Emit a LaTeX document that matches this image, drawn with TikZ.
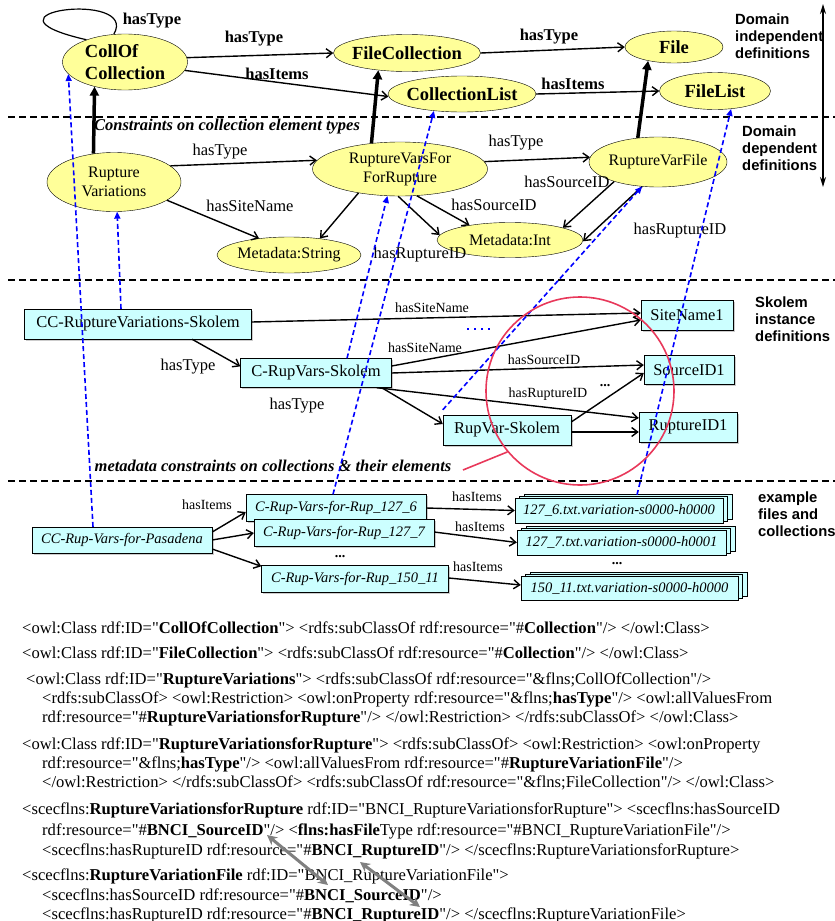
\documentclass[tikz,border=0pt]{standalone}
\usepackage{fontspec}
\setmainfont{Liberation Serif}[Ligatures=TeXOff]
\newfontfamily\sidefont{Liberation Sans}
\usetikzlibrary{shapes.geometric, arrows.meta, shadows}

\definecolor{clsyellow}{HTML}{FFFF99}
\definecolor{skcyan}{HTML}{CCFFFF}
\definecolor{instblue}{HTML}{0000FF}
\definecolor{markred}{HTML}{E8385A}

\tikzset{
  cls/.style={ellipse, draw, fill=clsyellow, inner sep=0pt, inner xsep=-4pt, align=center, font=\fontsize{16}{19}\selectfont},
  clsbold/.style={cls, inner xsep=-6pt, font=\fontsize{18.5}{22}\selectfont\bfseries},
  prop/.style={line width=1.4pt, -{Straight Barb[length=6pt,width=9pt]}},
  subcl/.style={line width=3.5pt, -{Triangle[length=9pt,width=9pt]}},
  inst/.style={instblue, line width=1.6pt, dash pattern=on 5pt off 3pt, -{Triangle[length=7pt,width=6pt]}},
  skbox/.style={draw, fill=skcyan, inner sep=0pt, font=\fontsize{16.5}{18}\selectfont,
    drop shadow={shadow xshift=1.5pt, shadow yshift=-1.5pt, opacity=0.4}},
  exbox/.style={skbox, font=\fontsize{14.5}{16}\selectfont\itshape},
  filestack/.style={draw, fill=skcyan, inner sep=0pt, font=\fontsize{14.5}{16}\selectfont\itshape,
    preaction={draw, fill=skcyan, transform canvas={shift={(9pt,4pt)}}},
    preaction={draw, fill=skcyan, transform canvas={shift={(4.5pt,2pt)}}}},
  boldlbl/.style={font=\fontsize{16.5}{18}\selectfont\bfseries},
  lbl/.style={font=\fontsize{16.5}{18}\selectfont},
  smalllbl/.style={font=\fontsize{14}{16}\selectfont},
  side/.style={anchor=north west, align=left, inner sep=0pt, font=\sidefont\fontsize{14.8}{16.8}\selectfont\bfseries},
  caption/.style={font=\fontsize{16.5}{18}\selectfont\bfseries\itshape},
  sep/.style={line width=1.3pt, dash pattern=on 7pt off 4pt},
  code/.style={anchor=base west, inner sep=0pt, font=\fontsize{16.6}{18}\selectfont},
  xmlarrow/.style={black!50, line width=3pt, {Stealth[length=10pt,width=10pt]}-{Stealth[length=10pt,width=10pt]}},
}

\begin{document}
\begin{tikzpicture}[x=1pt, y=-1pt]
    \useasboundingbox (0,0) rectangle (835,921);

    % section rules and the side axis
    \draw[sep] (8,117) -- (835,117);
    \draw[sep] (8,280) -- (835,280);
    \draw[sep] (8,481) -- (835,481);
    \coordinate (axtop) at (823,4);
    \coordinate (axbot) at (823,187);
    \draw[line width=1.3pt, {Stealth[length=10pt,width=6pt]}-{Stealth[length=10pt,width=6pt]}] (axtop) -- (axbot);

    \node[side] (sideind) at (735,14) {Domain\\independent\\definitions};
    \node[side] (sidedep) at (742,126) {Domain\\dependent\\definitions};
    \node[side] (sidesk) at (755,297) {Skolem\\instance\\definitions};
    \node[side] (sideex) at (758,492) {example\\files and\\collections};

    % domain independent classes
    \node[clsbold, minimum width=125pt, minimum height=56pt, align=left] (coll) at (125,62) {CollOf\\Collection};
    \node[clsbold, minimum width=147pt, minimum height=37pt] (filecoll) at (407,53) {FileCollection};
    \node[clsbold, minimum width=98pt, minimum height=32pt] (file) at (674,47) {File};
    \node[clsbold, minimum width=148pt, minimum height=36pt] (colllist) at (462,94) {CollectionList};
    \node[clsbold, minimum width=111pt, minimum height=37pt] (filelist) at (715,91) {FileList};

    \draw[line width=1.2pt] (coll.150) .. controls (-35,12) and (140,-10) .. (coll.112);
    \draw[prop] (coll.4) -- (filecoll.180);
    \draw[prop] (coll.-8) -- (colllist.182);
    \draw[prop] (filecoll.0) -- (file.180);
    \draw[prop] (colllist.0) -- (filelist.180);
    \node[boldlbl] (lloop) at (152,21) {hasType};
    \node[boldlbl] (lcf) at (254,39) {hasType};
    \node[boldlbl] (lcl) at (277,74) {hasItems};
    \node[boldlbl] (lff) at (549,37) {hasType};
    \node[boldlbl] (llf) at (573,84) {hasItems};

    % domain dependent classes
    \node[cls, minimum width=134pt, minimum height=59pt] (rupvar) at (114,182) {Rupture\\Variations};
    \node[cls, minimum width=175pt, minimum height=54pt] (rvfr) at (400,169) {RuptureVarsFor\\ForRupture};
    \node[cls, minimum width=138pt, minimum height=50pt] (rvfile) at (658,162) {RuptureVarFile};
    \node[cls, minimum width=144pt, minimum height=36pt] (mstr) at (289,255) {Metadata:String};
    \node[cls, minimum width=146pt, minimum height=35pt] (mint) at (510,240) {Metadata:Int};

    \draw[subcl] (rupvar.126) -- (coll.219);
    \draw[subcl] (rvfr.138) -- (filecoll.211);
    \draw[subcl] (rvfile.130) -- (file.208);

    \draw[prop] (rupvar.16) -- (rvfr.174);
    \draw[prop] (rupvar.-19) -- (mstr.151);
    \draw[prop] (rvfr.210) -- (mstr.28);
    \draw[prop] (rvfr.266) -- (mint.176);
    \draw[prop] (rvfr.302) -- (mint.160);
    \draw[prop] (rvfr.5) -- (rvfile.176);
    \draw[prop] (rvfile.204) -- (mint.13);
    \draw[prop] (rvfile.237) -- (mint.-1);
    \node[caption] (capdom) at (227,127) {Constraints on collection element types};
    \node[lbl] (lrt) at (220,152) {hasType};
    \node[lbl] (lrs) at (250,206) {hasSiteName};
    \node[lbl] (lrr) at (420,255) {hasRuptureID};
    \node[lbl] (lft) at (516,143) {hasType};
    \node[lbl] (lfs) at (567,182) {hasSourceID};
    \node[lbl] (lms) at (494,205) {hasSourceID};
    \node[lbl] (lfr) at (680,231) {hasRuptureID};

    % skolem instances
    \node[skbox, minimum width=227pt, minimum height=30pt] (ccsk) at (138,324) {CC-RuptureVariations-Skolem};
    \node[skbox, minimum width=151pt, minimum height=29pt] (csk) at (316,373) {C-RupVars-Skolem};
    \node[skbox, minimum width=92pt, minimum height=30pt] (site) at (687,315) {SiteName1};
    \node[skbox, minimum width=90pt, minimum height=29pt] (src) at (689,370) {SourceID1};
    \node[skbox, minimum width=98pt, minimum height=30pt] (rup) at (688,427) {RuptureID1};
    \node[skbox, minimum width=128pt, minimum height=30pt] (rvsk) at (507,430) {RupVar-Skolem};

    \draw[prop] ([yshift=2pt]ccsk.east) -- ([yshift=2pt]site.west);
    \draw[prop] ([xshift=54pt]ccsk.south) -- (csk.175);
    \draw[prop] ([yshift=7pt]csk.east) -- ([yshift=-5pt]site.west);
    \draw[prop] (csk.east) -- ([yshift=5pt]src.west);
    \draw[prop] ([xshift=-15pt]csk.south east) -- ([yshift=9pt]rup.west);
    \draw[prop] ([xshift=-10pt]csk.south east) -- ([yshift=6pt]rvsk.west);
    \draw[prop] ([yshift=8pt]rvsk.east) -- ([yshift=-3pt]src.west);
    \draw[prop] ([yshift=-2pt]rvsk.east) -- ([yshift=-5pt]rup.west);
    \node[smalllbl] (lks) at (432,308) {hasSiteName};
    \node[lbl] (lkt) at (188,367) {hasType};
    \node[smalllbl] (lcs) at (425,348) {hasSiteName};
    \node[smalllbl] (lcsrc) at (544,360) {hasSourceID};
    \node[smalllbl] (lcr) at (548,394) {hasRuptureID};
    \node[lbl] (lct) at (297,406) {hasType};
    \node[font=\fontsize{14}{16}\selectfont\bfseries] (dotsk) at (605,386) {...};
    \draw[instblue, line width=1.6pt, dash pattern=on 2pt off 5pt] (467,329) -- (490,329);
    \node[caption] (capmeta) at (273,466) {metadata constraints on collections \& their elements};

    % example collections and files
    \node[exbox, minimum width=180pt, minimum height=26pt] (pasa) at (122,540) {CC-Rup-Vars-for-Pasadena};
    \node[exbox, minimum width=180pt, minimum height=27pt] (r1276) at (336,508) {C-Rup-Vars-for-Rup\_127\_6};
    \node[exbox, minimum width=180pt, minimum height=27pt] (r1277) at (344,533) {C-Rup-Vars-for-Rup\_127\_7};
    \node[exbox, minimum width=187pt, minimum height=27pt] (r15011) at (355,579) {C-Rup-Vars-for-Rup\_150\_11};
    \node[filestack, minimum width=208pt, minimum height=25pt] (f1276) at (619,510.5) {127\_6.txt.variation-s0000-h0000};
    \node[filestack, minimum width=209pt, minimum height=25pt] (f1277) at (621.5,542.5) {127\_7.txt.variation-s0000-h0001};
    \node[filestack, minimum width=217pt, minimum height=24pt] (f15011) at (629.5,588) {150\_11.txt.variation-s0000-h0000};

    \draw[prop] ([yshift=8pt]pasa.east) -- ([yshift=-4pt]r1276.west);
    \draw[prop] (pasa.east) -- (r1277.west);
    \draw[prop] ([yshift=-9pt]pasa.east) -- ([yshift=-1pt]r15011.north west);
    \draw[prop] (r1276.east) -- (f1276.west);
    \draw[prop] ([yshift=1pt]r1277.east) -- (f1277.west);
    \draw[prop] ([yshift=1pt]r15011.east) -- ([yshift=3pt]f15011.west);
    \node[smalllbl] (lpi) at (207,505) {hasItems};
    \node[smalllbl] (li1) at (477,497) {hasItems};
    \node[smalllbl] (li2) at (480,527) {hasItems};
    \node[smalllbl] (li3) at (478,567) {hasItems};
    \node[font=\fontsize{14}{16}\selectfont\bfseries] (dotr) at (340,557) {...};
    \node[font=\fontsize{14}{16}\selectfont\bfseries] (dotf) at (617,564) {...};

    % instance-of links
    \draw[inst] ([xshift=-29pt]pasa.north) -- (coll.192);
    \draw[inst] ([xshift=-17pt]ccsk.north) -- (rupvar.276);
    \draw[inst] ([xshift=31pt]csk.north) -- (rvfr.245);
    \draw[inst] ([xshift=-3pt]r1276.north) -- (colllist.211);
    \draw[inst] ([yshift=5pt]rvsk.north west) -- (rvfile.237);
    \draw[inst] ([xshift=18pt,yshift=3pt]f1276.north) -- (filelist.312);

    \node[draw=markred, circle, line width=1.6pt, minimum size=188pt] (hl) at (580,391) {};
    \coordinate (hltail) at (463,470);
    \draw[markred, line width=1.6pt] (hl.220) -- (hltail);

    % owl listing
    \node[code] (x1) at (22,633) {<owl:Class rdf:ID="\textbf{CollOfCollection}"> <rdfs:subClassOf rdf:resource="\#\textbf{Collection}"/> </owl:Class>};
    \node[code] (x2) at (22,658) {<owl:Class rdf:ID="\textbf{FileCollection}"> <rdfs:subClassOf rdf:resource="\#\textbf{Collection}"/> </owl:Class>};
    \node[code] (x3) at (26,684) {<owl:Class rdf:ID="\textbf{RuptureVariations}"> <rdfs:subClassOf rdf:resource="\&flns;CollOfCollection"/>};
    \node[code] (x4) at (42,703) {<rdfs:subClassOf> <owl:Restriction> <owl:onProperty rdf:resource="\&flns;\textbf{hasType}"/> <owl:allValuesFrom};
    \node[code] (x5) at (42,722) {rdf:resource="\#\textbf{RuptureVariationsforRupture}"/> </owl:Restriction> </rdfs:subClassOf> </owl:Class>};
    \node[code] (x6) at (22,749) {<owl:Class rdf:ID="\textbf{RuptureVariationsforRupture}"> <rdfs:subClassOf> <owl:Restriction> <owl:onProperty};
    \node[code] (x7) at (42,768) {rdf:resource="\&flns;\textbf{hasType}"/> <owl:allValuesFrom rdf:resource="\#\textbf{RuptureVariationFile}"/>};
    \node[code] (x8) at (42,787) {</owl:Restriction> </rdfs:subClassOf> <rdfs:subClassOf rdf:resource="\&flns;FileCollection"/> </owl:Class>};
    \node[code] (x9) at (22,814) {<scecflns:\textbf{RuptureVariationsforRupture} rdf:ID="BNCI\_RuptureVariationsforRupture"> <scecflns:hasSourceID};
    \node[code] (x10) at (42,835) {rdf:resource="\#\textbf{BNCI\_SourceID}"/> <\textbf{flns:hasFile}Type rdf:resource="\#BNCI\_RuptureVariationFile"/>};
    \node[code] (x11) at (42,855) {<scecflns:hasRuptureID rdf:resource="\#\textbf{BNCI\_RuptureID}"/> </scecflns:RuptureVariationsforRupture>};
    \node[code] (x12) at (22,880) {<scecflns:\textbf{RuptureVariationFile} rdf:ID="BNCI\_RuptureVariationFile">};
    \node[code] (x13) at (42,900) {<scecflns:hasSourceID rdf:resource="\#\textbf{BNCI\_SourceID}"/>};
    \node[code] (x14) at (42,919) {<scecflns:hasRuptureID rdf:resource="\#\textbf{BNCI\_RuptureID}"/> </scecflns:RuptureVariationFile>};

    \coordinate (g1a) at (267,835);
    \coordinate (g1b) at (328,885);
    \coordinate (g2a) at (360,862);
    \coordinate (g2b) at (420,907);
    \draw[xmlarrow] (g1a) -- (g1b);
    \draw[xmlarrow] (g2a) -- (g2b);
\end{tikzpicture}
\end{document}
